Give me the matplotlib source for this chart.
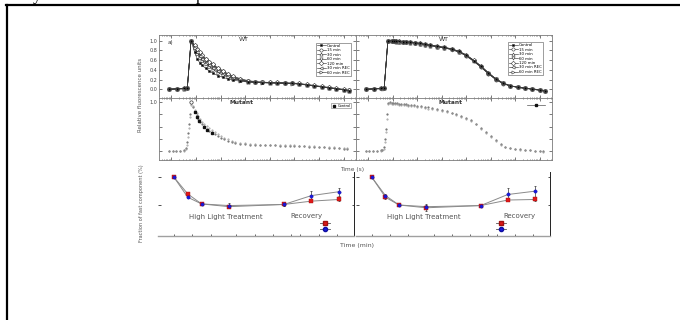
import numpy as np
import matplotlib
matplotlib.use("Agg")
import matplotlib.pyplot as plt
from matplotlib.lines import Line2D
from matplotlib.ticker import LogLocator, NullFormatter, FixedLocator

# ---------------- data ----------------
# log10(time, s) grid for fluorescence decay (WT)
t_log = [-5.1, -4.75, -4.5, -4.35, -4.2, -4.05, -3.95, -3.85, -3.75, -3.6, -3.45, -3.3,
         -3.1, -2.9, -2.7, -2.5, -2.2, -1.9, -1.6, -1.3, -1.0, -0.7, -0.4, -0.1,
         0.2, 0.5, 0.8, 1.1, 1.4, 1.7, 2.0, 2.2]
series_names = ["Control", "15 min", "30 min", "60 min", "120 min", "30 min REC", "60 min REC"]

wt_ctrl = [0.0, 0.01, 0.02, 0.02, 1.0, 0.76, 0.63, 0.55, 0.49, 0.43, 0.37, 0.33, 0.28, 0.245, 0.215, 0.19,
           0.165, 0.15, 0.14, 0.135, 0.13, 0.13, 0.125, 0.12, 0.11, 0.09, 0.07, 0.05, 0.03, 0.01, -0.01, -0.03]
wt_15 = [0.0, 0.01, 0.02, 0.02, 1.0, 0.90, 0.82, 0.75, 0.69, 0.62, 0.56, 0.50, 0.43, 0.37, 0.31, 0.26,
         0.21, 0.17, 0.15, 0.145, 0.14, 0.135, 0.13, 0.125, 0.115, 0.095, 0.075, 0.055, 0.035, 0.015, -0.005, -0.025]
wt_30 = [0.0, 0.01, 0.01, 0.02, 1.0, 0.88, 0.79, 0.72, 0.66, 0.59, 0.53, 0.47, 0.40, 0.34, 0.29, 0.24,
         0.19, 0.16, 0.145, 0.14, 0.135, 0.13, 0.125, 0.12, 0.11, 0.09, 0.07, 0.05, 0.03, 0.01, -0.01, -0.03]
wt_60 = [0.0, 0.0, 0.01, 0.02, 0.99, 0.89, 0.81, 0.74, 0.68, 0.61, 0.55, 0.49, 0.42, 0.36, 0.30, 0.25,
         0.20, 0.165, 0.15, 0.14, 0.135, 0.13, 0.13, 0.12, 0.11, 0.095, 0.075, 0.05, 0.03, 0.015, -0.01, -0.02]
wt_120 = [0.01, 0.01, 0.02, 0.03, 0.99, 0.91, 0.83, 0.76, 0.70, 0.63, 0.57, 0.51, 0.44, 0.38, 0.32, 0.27,
          0.22, 0.18, 0.16, 0.15, 0.14, 0.14, 0.135, 0.13, 0.12, 0.10, 0.08, 0.06, 0.04, 0.02, 0.0, -0.02]
wt_r30 = [0.0, 0.01, 0.02, 0.02, 1.0, 0.86, 0.76, 0.68, 0.62, 0.55, 0.49, 0.43, 0.37, 0.32, 0.27, 0.23,
          0.185, 0.155, 0.145, 0.14, 0.13, 0.13, 0.125, 0.12, 0.11, 0.09, 0.07, 0.05, 0.03, 0.01, -0.01, -0.03]
wt_r60 = [0.0, 0.01, 0.01, 0.02, 1.0, 0.84, 0.73, 0.65, 0.58, 0.51, 0.45, 0.40, 0.34, 0.29, 0.25, 0.215,
          0.18, 0.155, 0.14, 0.135, 0.13, 0.125, 0.12, 0.115, 0.105, 0.085, 0.065, 0.045, 0.025, 0.01, -0.015, -0.035]

# WT with DCMU
wtd_ctrl = [0.0, 0.01, 0.02, 0.03, 1.0, 0.995, 0.99, 0.99, 0.985, 0.98, 0.975, 0.97, 0.96, 0.945, 0.925, 0.91,
            0.885, 0.86, 0.83, 0.78, 0.70, 0.59, 0.47, 0.33, 0.21, 0.12, 0.07, 0.04, 0.02, 0.0, -0.02, -0.035]
wtd_15 = [0.0, 0.01, 0.02, 0.02, 0.99, 0.99, 0.99, 0.985, 0.98, 0.975, 0.97, 0.965, 0.955, 0.94, 0.92, 0.905,
          0.88, 0.855, 0.82, 0.77, 0.69, 0.58, 0.46, 0.32, 0.20, 0.115, 0.065, 0.04, 0.02, 0.005, -0.015, -0.03]
wtd_30 = [0.01, 0.01, 0.02, 0.03, 1.0, 0.99, 0.985, 0.98, 0.98, 0.975, 0.97, 0.96, 0.95, 0.94, 0.92, 0.90,
          0.88, 0.85, 0.82, 0.77, 0.70, 0.60, 0.48, 0.34, 0.22, 0.13, 0.075, 0.045, 0.025, 0.01, -0.01, -0.03]
wtd_60 = [0.0, 0.0, 0.01, 0.02, 0.99, 0.99, 0.985, 0.98, 0.975, 0.97, 0.965, 0.96, 0.95, 0.935, 0.915, 0.90,
          0.875, 0.85, 0.815, 0.765, 0.685, 0.575, 0.455, 0.32, 0.205, 0.12, 0.07, 0.04, 0.02, 0.0, -0.02, -0.04]
wtd_120 = [0.0, 0.01, 0.02, 0.02, 1.0, 0.995, 0.99, 0.985, 0.985, 0.98, 0.975, 0.965, 0.955, 0.945, 0.93, 0.91,
           0.89, 0.865, 0.835, 0.785, 0.71, 0.60, 0.48, 0.345, 0.22, 0.13, 0.075, 0.045, 0.025, 0.01, -0.01, -0.025]
wtd_r30 = [0.0, 0.01, 0.01, 0.02, 1.0, 0.99, 0.99, 0.985, 0.98, 0.975, 0.97, 0.965, 0.955, 0.94, 0.925, 0.905,
           0.88, 0.86, 0.825, 0.775, 0.695, 0.585, 0.465, 0.33, 0.21, 0.12, 0.07, 0.04, 0.02, 0.005, -0.015, -0.03]
wtd_r60 = [0.0, 0.01, 0.02, 0.03, 1.0, 0.995, 0.99, 0.99, 0.98, 0.975, 0.97, 0.97, 0.96, 0.945, 0.925, 0.91,
           0.885, 0.86, 0.83, 0.78, 0.70, 0.59, 0.47, 0.335, 0.215, 0.125, 0.07, 0.04, 0.02, 0.0, -0.02, -0.035]

# Mutant (dense dotted traces)
tm_log = [-5.1, -4.95, -4.8, -4.65, -4.5, -4.42, -4.36, -4.32, -4.28, -4.24, -4.2, -4.12, -4.04, -3.97,
          -3.9, -3.82, -3.74, -3.66, -3.56, -3.46, -3.36, -3.24, -3.12, -3.0, -2.85, -2.7, -2.55, -2.4,
          -2.2, -2.0, -1.8, -1.6, -1.4, -1.2, -1.0, -0.8, -0.6, -0.4, -0.2, 0.0, 0.2, 0.4, 0.6, 0.8,
          1.0, 1.2, 1.4, 1.6, 1.8, 2.0, 2.15]
mut_a = [0.0, 0.01, 0.0, 0.01, 0.02, 0.06, 0.18, 0.36, 0.55, 0.76, 0.98, 0.90, 0.81, 0.73, 0.66, 0.60,
         0.55, 0.51, 0.46, 0.42, 0.38, 0.34, 0.30, 0.27, 0.24, 0.21, 0.19, 0.17, 0.15, 0.14, 0.13, 0.125,
         0.12, 0.12, 0.115, 0.115, 0.11, 0.11, 0.105, 0.10, 0.10, 0.095, 0.09, 0.085, 0.08, 0.075, 0.07,
         0.06, 0.055, 0.05, 0.04]
mut_b = [0.01, 0.0, 0.01, 0.0, 0.01, 0.04, 0.12, 0.28, 0.48, 0.70, 0.95, 0.92, 0.85, 0.78, 0.71, 0.65,
         0.60, 0.56, 0.52, 0.48, 0.43, 0.39, 0.35, 0.31, 0.27, 0.24, 0.21, 0.19, 0.17, 0.155, 0.14, 0.135,
         0.13, 0.125, 0.125, 0.12, 0.12, 0.12, 0.115, 0.115, 0.11, 0.105, 0.10, 0.10, 0.09, 0.085, 0.08,
         0.075, 0.07, 0.06, 0.055]
mut_ctrl_t = [-4.04, -3.97, -3.86, -3.67, -3.56, -3.36]
mut_ctrl_y = [0.80, 0.70, 0.62, 0.50, 0.44, 0.36]
mut_peak_t = [-4.2]
mut_peak_y = [1.0]

mutd_a = [0.0, 0.01, 0.0, 0.01, 0.02, 0.03, 0.08, 0.25, 0.45, 0.75, 0.99, 1.0, 0.99, 0.99, 0.985, 0.98,
          0.975, 0.97, 0.965, 0.96, 0.955, 0.945, 0.94, 0.93, 0.915, 0.905, 0.895, 0.88, 0.865, 0.85,
          0.82, 0.79, 0.76, 0.72, 0.68, 0.63, 0.56, 0.47, 0.38, 0.30, 0.22, 0.14, 0.09, 0.06, 0.045,
          0.035, 0.025, 0.02, 0.01, 0.0, -0.01]
mutd_b = [0.01, 0.0, 0.01, 0.0, 0.01, 0.02, 0.05, 0.18, 0.38, 0.66, 0.97, 0.99, 0.975, 0.97, 0.965, 0.96,
          0.955, 0.95, 0.945, 0.94, 0.93, 0.925, 0.915, 0.905, 0.895, 0.885, 0.87, 0.86, 0.845, 0.83,
          0.80, 0.775, 0.745, 0.705, 0.665, 0.615, 0.545, 0.46, 0.37, 0.285, 0.205, 0.13, 0.085, 0.055,
          0.04, 0.03, 0.02, 0.015, 0.005, -0.005, -0.015]

# Fraction of fast component vs time (min)
t_min = [0, 15, 30, 60, 120, 150, 180]
left_red = [100, 70, 52, 47, 51, 57, 60]
left_blue = [100, 64, 52, 49, 51, 67, 74]
left_red_err = [0, 2, 1.5, 3, 2, 2, 2]
left_blue_err = [0, 2, 1.5, 4.5, 2.5, 8, 7]
right_red = [100, 64, 50, 45, 49, 59, 60]
right_blue = [100, 67, 50, 47, 49, 69, 75]
right_red_err = [0, 3, 1.5, 5, 3, 2, 3]
right_blue_err = [0, 3, 1.5, 5, 3, 12, 10]

# ---------------- figure ----------------
W, H = 680, 320
fig = plt.figure(figsize=(6.8, 3.2), dpi=100)
fig.patch.set_facecolor("white")


def fx(px):
    return px / W


def fy(py):
    return 1 - py / H


def box(x0, x1, y0, y1):
    return [fx(x0), fy(y1), fx(x1) - fx(x0), fy(y0) - fy(y1)]


# page decorations (cut-off line of body text above the figure)
fig.add_artist(Line2D([fx(6), 1.0], [fy(5), fy(5)], color="black", lw=1.6))
fig.add_artist(Line2D([fx(7.2), fx(7.2)], [fy(5), 0.0], color="black", lw=1.6))
fig.text(fx(33), 1.0, "y", fontsize=12, family="Liberation Serif", va="baseline")
fig.text(fx(196), 1.0, "p", fontsize=12, family="Liberation Serif", va="baseline")

spine_col = "#7a7a7a"
line_col = "#3a3a3a"


def style_log(ax, ylim, yticks, ylabels):
    ax.set_xscale("log")
    ax.set_xlim(10 ** -5.5, 10 ** 2.5)
    ax.set_ylim(*ylim)
    ax.xaxis.set_major_locator(LogLocator(base=10, numticks=20))
    ax.xaxis.set_minor_locator(LogLocator(base=10, subs=np.arange(2, 10), numticks=50))
    ax.xaxis.set_major_formatter(NullFormatter())
    ax.xaxis.set_minor_formatter(NullFormatter())
    ax.set_yticks(yticks)
    ax.set_yticklabels(ylabels)
    ax.tick_params(axis="both", which="major", direction="in", length=2, width=0.5,
                   colors="#444444", labelsize=3.5, pad=1.5, top=True, right=True)
    ax.tick_params(axis="x", which="minor", direction="in", length=1, width=0.4,
                   colors="#444444", top=True)
    for s in ax.spines.values():
        s.set_color(spine_col)
        s.set_linewidth(0.6)


markers = ["s", "o", "^", "v", "D", "<", ">"]


def draw_curves(ax, ys):
    for i, (name, y) in enumerate(zip(series_names, ys)):
        face = "black" if i == 0 else "white"
        ax.plot(10 ** np.array(t_log), y, color=line_col, lw=0.45, marker=markers[i],
                ms=2.3 if i else 1.9, mfc=face, mec="#333333", mew=0.4, label=name,
                zorder=3 + (0 if i else 1))


# --- top row: WT ---
ax1 = fig.add_axes(box(159, 356, 34.7, 97.5))
style_log(ax1, (-0.169, 1.123), [0, 0.2, 0.4, 0.6, 0.8, 1.0],
          ["0.0", "0.2", "0.4", "0.6", "0.8", "1.0"])
draw_curves(ax1, [wt_ctrl, wt_15, wt_30, wt_60, wt_120, wt_r30, wt_r60])
ax1.text(0.43, 0.93, "WT", transform=ax1.transAxes, fontsize=4.5, color="#333333",
         ha="center", va="center")
ax1.text(0.045, 0.87, "a)", transform=ax1.transAxes, fontsize=4, color="#333333",
         ha="left", va="center")
leg = ax1.legend(loc="upper right", bbox_to_anchor=(0.985, 0.905), fontsize=2.8,
                 handlelength=2.2, labelspacing=0.12, borderpad=0.3, handletextpad=0.4,
                 fancybox=False, edgecolor="#555555", framealpha=1)
leg.get_frame().set_linewidth(0.4)

ax2 = fig.add_axes(box(356, 552, 34.7, 97.5))
style_log(ax2, (-0.169, 1.123), [0, 0.2, 0.4, 0.6, 0.8, 1.0], [""] * 6)
draw_curves(ax2, [wtd_ctrl, wtd_15, wtd_30, wtd_60, wtd_120, wtd_r30, wtd_r60])
ax2.text(0.45, 0.93, "WT", transform=ax2.transAxes, fontsize=4.5, color="#333333",
         ha="center", va="center")
leg = ax2.legend(loc="upper right", bbox_to_anchor=(0.965, 0.915), fontsize=2.8,
                 handlelength=2.2, labelspacing=0.12, borderpad=0.3, handletextpad=0.4,
                 fancybox=False, edgecolor="#555555", framealpha=1)
leg.get_frame().set_linewidth(0.4)

# --- middle row: Mutant ---
ax3 = fig.add_axes(box(159, 356, 97.5, 160))
style_log(ax3, (-0.185, 1.099), [0, 0.25, 0.5, 0.75, 1.0], ["", "", "", "", "1.0"])
tm = 10 ** np.array(tm_log)
ax3.plot(tm, mut_a, ls="none", marker=".", ms=1.1, color="#666666")
ax3.plot(tm, mut_b, ls="none", marker=".", ms=0.9, color="#999999")
ax3.plot(10 ** np.array(mut_ctrl_t), mut_ctrl_y, ls="none", marker="s", ms=1.8,
         color="#111111", label="Control")
ax3.plot(10 ** np.array(mut_peak_t), mut_peak_y, ls="none", marker="o", ms=2.4,
         mfc="white", mec="#333333", mew=0.5)
ax3.text(0.42, 0.926, "Mutant", transform=ax3.transAxes, fontsize=4.2, color="#333333",
         ha="center", va="center", weight="bold")
leg = ax3.legend(loc="upper right", bbox_to_anchor=(0.985, 0.935), fontsize=2.6,
                 handlelength=1.5, borderpad=0.15, handletextpad=0.3, fancybox=False,
                 edgecolor="#777777", framealpha=1)
leg.get_frame().set_linewidth(0.4)

ax4 = fig.add_axes(box(356, 552, 97.5, 160))
style_log(ax4, (-0.185, 1.099), [0, 0.25, 0.5, 0.75, 1.0], [""] * 5)
ax4.plot(tm, mutd_a, ls="none", marker=".", ms=1.1, color="#666666")
ax4.plot(tm, mutd_b, ls="none", marker=".", ms=0.9, color="#999999")
ax4.plot([], [], color="#555555", lw=0.5, marker="s", ms=1.8, mfc="#111111", mec="#111111",
         label=" ")
ax4.text(0.48, 0.926, "Mutant", transform=ax4.transAxes, fontsize=4.2, color="#333333",
         ha="center", va="center", weight="bold")
leg = ax4.legend(loc="upper right", bbox_to_anchor=(0.985, 0.95), fontsize=2.6,
                 handlelength=5, borderpad=0.1, handletextpad=0.1, frameon=False)

fig.text(fx(352), fy(169), "Time (s)", fontsize=4.2, color="#555555", ha="center", va="center")
fig.text(fx(141), fy(95), "Relative fluorescence units", fontsize=4.0, color="#555555",
         rotation=90, ha="center", va="center")

# --- bottom row: fraction of fast component ---


def style_bottom(ax):
    ax.set_xlim(-17.5, 196.5)
    ax.set_ylim(-5.4, 109.6)
    ax.set_facecolor("none")
    for side in ["top", "left"]:
        ax.spines[side].set_visible(False)
    ax.spines["bottom"].set_color("#a0a0a0")
    ax.spines["bottom"].set_linewidth(1.0)
    ax.spines["right"].set_color("#222222")
    ax.spines["right"].set_linewidth(0.7)
    ax.xaxis.set_major_locator(FixedLocator([0, 20, 40, 68, 88, 108, 128, 138, 158, 178]))
    ax.set_xticklabels([])
    ax.set_yticks([50, 100])
    ax.set_yticklabels([])
    ax.tick_params(axis="x", direction="in", length=1.5, width=0.6, colors="#444444")
    ax.tick_params(axis="y", direction="in", length=1.8, width=0.6, colors="#333333",
                   left=True, right=True)


def draw_fast(ax, red, red_err, blue, blue_err, rec_x):
    ax.plot(t_min, red, color="#8a8a8a", lw=0.7, zorder=2)
    ax.plot(t_min, blue, color="#8a8a8a", lw=0.7, zorder=2)
    ax.errorbar(t_min, red, yerr=red_err, fmt="none", ecolor="#333333", elinewidth=0.5,
                capsize=1.0, capthick=0.5, zorder=3)
    ax.errorbar(t_min, blue, yerr=blue_err, fmt="none", ecolor="#333333", elinewidth=0.5,
                capsize=1.0, capthick=0.5, zorder=3)
    ax.plot(t_min, red, ls="none", marker="s", ms=2.4, mfc="#e01818", mec="#a01010",
            mew=0.3, zorder=4)
    ax.plot(t_min, blue, ls="none", marker="o", ms=2.4, mfc="#1818e0", mec="#1010a0",
            mew=0.3, zorder=5)
    ax.text(57, 28, "High Light Treatment", fontsize=5, color="#555555", ha="center", va="center")
    ax.text(rec_x, 30.5, "Recovery", fontsize=5, color="#555555", ha="center", va="center")


r1 = Line2D([], [], color="#555555", lw=0.6, marker="s", ms=3, mfc="#e01818", mec="#a01010")
b1 = Line2D([], [], color="#555555", lw=0.6, marker="o", ms=3, mfc="#1818e0", mec="#1010a0")

ax5 = fig.add_axes(box(158, 354, 172, 235.7))
style_bottom(ax5)
draw_fast(ax5, left_red, left_red_err, left_blue, left_blue_err, 145)
ax5.legend([r1, b1], ["", ""], loc="center", bbox_to_anchor=(0.852, 0.14), frameon=False,
           fontsize=3, handlelength=2.4, labelspacing=0.5, handletextpad=0, borderpad=0)

ax6 = fig.add_axes(box(356, 550, 172, 235.7))
style_bottom(ax6)
draw_fast(ax6, right_red, right_red_err, right_blue, right_blue_err, 163)
ax6.legend([r1, b1], ["", ""], loc="center", bbox_to_anchor=(0.746, 0.14), frameon=False,
           fontsize=3, handlelength=2.4, labelspacing=0.5, handletextpad=0, borderpad=0)

fig.text(fx(357), fy(245), "Time (min)", fontsize=4.5, color="#555555", ha="center", va="center")
fig.text(fx(141), fy(203), "Fraction of fast component (%)", fontsize=3.6, color="#555555",
         rotation=90, ha="center", va="center")

fig.savefig("out.png", dpi=100, facecolor="white")
